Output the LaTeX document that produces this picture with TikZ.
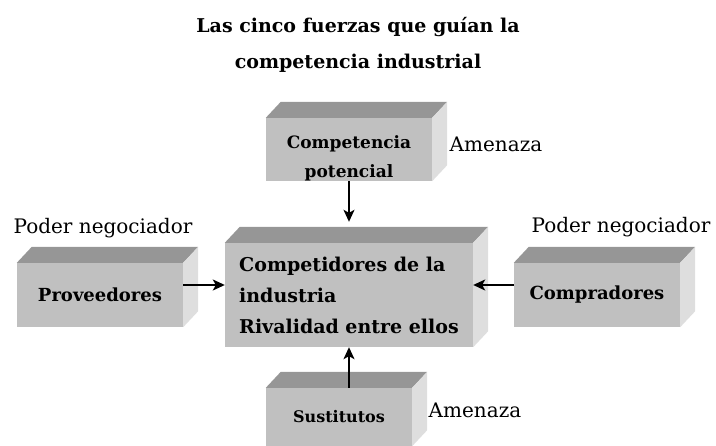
\documentclass[tikz,border=0pt]{standalone}
\usepackage{fontspec}
\setmainfont{DejaVu Serif}
\usetikzlibrary{arrows.meta,positioning}
\definecolor{frontface}{HTML}{C0C0C0}
\definecolor{topface}{HTML}{969696}
\definecolor{sideface}{HTML}{DEDEDE}

\begin{document}
\begin{tikzpicture}[x=1pt,y=-1pt,
  box/.style={fill=frontface,inner sep=0pt,font=\bfseries\fontsize{18}{22}\selectfont},
  tag/.style={anchor=base,font=\fontsize{20}{24}\selectfont},
  >={Stealth[length=12pt,width=11pt,inset=3pt]}]
\useasboundingbox (0,0) rectangle (716,446);

\node[align=center,font=\bfseries\fontsize{19}{36}\selectfont] (title) at (358,45) {Las cinco fuerzas que guían la\\competencia industrial};

\node[box,minimum width=248pt,minimum height=104pt,align=left,font=\bfseries\fontsize{19}{31}\selectfont] (rival) at (349,295) {Competidores de la\\industria\\Rivalidad entre ellos};
\node[box,minimum width=166pt,minimum height=64pt] (prov) at (100,295) {Proveedores};
\node[box,minimum width=166pt,minimum height=64pt] (comp) at (597,295) {Compradores};
\node[box,minimum width=166pt,minimum height=63pt] (pot) at (349,149.5) {};
\node[align=center,font=\bfseries\fontsize{17}{29}\selectfont] (potlbl) at (349,158) {Competencia\\potencial};
\node[box,minimum width=146pt,minimum height=58pt,font=\bfseries\fontsize{16}{20}\selectfont] (sust) at (339,417) {Sustitutos};

% caras superior y lateral
\foreach \b in {rival,prov,comp,pot,sust}{
  \fill[topface] (\b.north west) -- ++(15,-16) -- ([shift={(15pt,16pt)}]\b.north east) -- (\b.north east) -- cycle;
  \fill[sideface] (\b.north east) -- ++(15,-16) -- ([shift={(15pt,16pt)}]\b.south east) -- (\b.south east) -- cycle;
}

\node[tag] (pnl) at (103,234) {Poder negociador};
\node[tag] (pnr) at (621,233) {Poder negociador};
\node[tag] (amt) at (496,152) {Amenaza};
\node[tag] (amb) at (475,418) {Amenaza};

\path[->,line width=1.6pt]
  (pot.south) edge ([yshift=21pt]rival.north)
  (sust.north -| rival.south) edge (rival.south)
  ([yshift=10pt]prov.east) edge ([yshift=10pt]rival.west)
  ([yshift=10pt]comp.west) edge ([yshift=10pt]rival.east);
\end{tikzpicture}
\end{document}
